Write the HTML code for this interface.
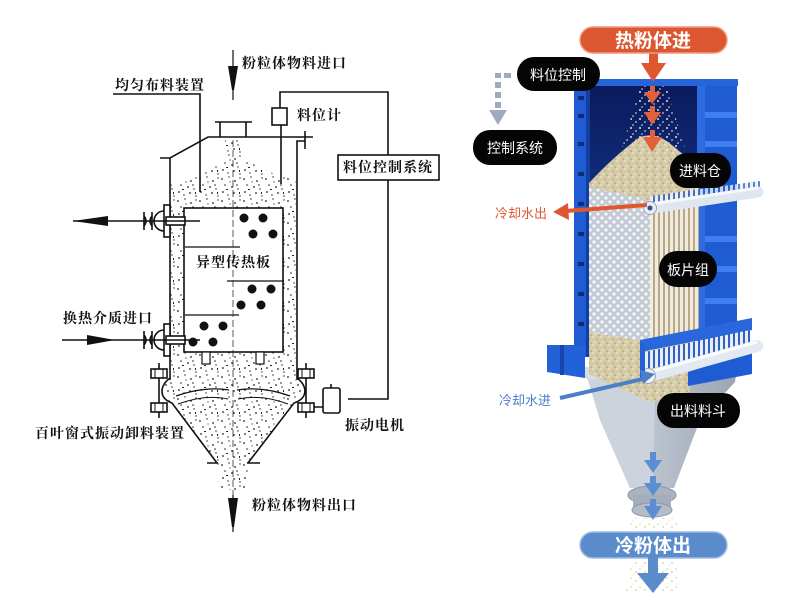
<!DOCTYPE html>
<html><head><meta charset="utf-8"><style>
html,body{margin:0;padding:0;background:#fff;}
svg{display:block;}
.lt{font-family:"Liberation Serif","Noto Serif CJK SC",serif;font-weight:bold;font-size:14px;letter-spacing:1px;fill:#111;}
.rt{font-family:"Liberation Sans","Noto Sans CJK SC",sans-serif;font-size:14px;fill:#fff;text-anchor:middle;}
</style></head><body>
<svg width="800" height="600" viewBox="0 0 800 600" xmlns="http://www.w3.org/2000/svg">
<defs>
<pattern id="speck" width="22" height="22" patternUnits="userSpaceOnUse">
<g fill="#222">
<circle cx="2" cy="3" r="0.9"/><circle cx="9" cy="1" r="0.7"/><circle cx="15" cy="5" r="0.9"/><circle cx="20" cy="2" r="0.7"/>
<circle cx="5" cy="9" r="0.8"/><circle cx="12" cy="11" r="0.9"/><circle cx="18" cy="13" r="0.7"/><circle cx="3" cy="16" r="0.9"/>
<circle cx="8" cy="19" r="0.7"/><circle cx="14" cy="17" r="0.9"/><circle cx="20" cy="20" r="0.7"/><circle cx="10" cy="6" r="0.6"/>
<circle cx="17" cy="9" r="0.8"/><rect x="6" y="13" width="2" height="1"/><rect x="19" y="16" width="1" height="2"/>
</g></pattern>
<pattern id="powder" width="8" height="8" patternUnits="userSpaceOnUse">
<rect width="8" height="8" fill="#d5cba9"/>
<circle cx="1" cy="1" r="0.9" fill="#efe8cf"/><circle cx="5" cy="3" r="0.9" fill="#b4a67f"/>
<circle cx="3" cy="6" r="0.9" fill="#f2ecd6"/><circle cx="7" cy="7" r="0.8" fill="#a8996f"/>
</pattern>
<pattern id="perf" width="8" height="8" patternUnits="userSpaceOnUse">
<rect width="8" height="8" fill="#c3cad4"/>
<circle cx="2" cy="2" r="1.6" fill="#f5f7fa"/><circle cx="6" cy="6" r="1.6" fill="#f5f7fa"/>
</pattern>
<pattern id="stripe" width="5" height="10" patternUnits="userSpaceOnUse">
<rect width="5" height="10" fill="#f0ebde"/><rect x="3" width="2" height="10" fill="#b6aa88"/>
</pattern>
<pattern id="comb" width="5" height="10" patternUnits="userSpaceOnUse">
<rect width="5" height="10" fill="#e9eef6"/><rect x="3" width="2" height="10" fill="#2f62c4"/>
</pattern>
<pattern id="fall" width="9" height="9" patternUnits="userSpaceOnUse">
<circle cx="1" cy="2" r="1" fill="#e9e1c3"/><circle cx="6" cy="5" r="0.9" fill="#d4c89f"/><circle cx="3" cy="8" r="0.8" fill="#f3edd8"/>
</pattern>
<linearGradient id="hop" x1="0" y1="0" x2="1" y2="0">
<stop offset="0" stop-color="#c9d0da"/><stop offset="0.5" stop-color="#b9c1cd"/><stop offset="1" stop-color="#9aa4b2"/>
</linearGradient>
<linearGradient id="inter" x1="0" y1="0" x2="0" y2="1">
<stop offset="0" stop-color="#0a1a5e"/><stop offset="1" stop-color="#12307f"/>
</linearGradient>
</defs>
<rect width="800" height="600" fill="#fff"/>

<!-- ============ LEFT DIAGRAM ============ -->
<path d="M170 185 L190 178 L210 168 L224 158 L225 140 L242 140 L243 158 L260 168 L280 176 L296 180 L296 380 C306 387 308 398 294 403 L248 463 L247 490 L219 490 L217 463 L172 403 C158 398 160 387 170 380 Z" fill="url(#speck)"/>
<g stroke="#111" fill="none" stroke-width="1.6">
<!-- vessel top -->
<path d="M160 158 H170 L208 137 H313"/>
<path d="M297 380 V141 H305"/>
<path d="M305 131 V149"/>
<path d="M170 158 V380"/>
<path d="M215 122 H252 M220 122 V137 M246 122 V137"/>
<!-- level meter -->
<rect x="272" y="108" width="15" height="17" fill="#fff"/>
<path d="M280 108 V92 H388 V399 H348"/>
<path d="M281 125 V184"/>
<rect x="338" y="155" width="101" height="25" fill="#fff"/>
<path d="M113 94 H200 V192"/>
<!-- plate box -->
<rect x="184" y="208" width="99" height="144" fill="#fff"/>
<path d="M185 247 H240 M227 281 H283 M185 315 H239" stroke-width="1.3"/>
<!-- small feet -->
<rect x="202" y="352" width="8" height="12" fill="#fff" stroke-width="1.2"/>
<rect x="256" y="352" width="8" height="12" fill="#fff" stroke-width="1.2"/>
<!-- bulge & cone -->
<path d="M170 378 C160 385 158 398 172 403 L217 463"/>
<path d="M297 378 C307 385 309 398 294 403 L248 463"/>
<path d="M207 463 H218 M247 463 H260"/>
<path d="M176 396 Q205 386 229 390 M237 390 Q262 386 290 396" stroke-width="1.2"/>
<path d="M178 404 Q205 394 228 399 M238 399 Q262 394 288 404" stroke-width="1"/>
<!-- clamps -->
<path d="M159 363 V418 M306 363 V418"/>
<rect x="151" y="369" width="16" height="9" fill="#fff"/>
<rect x="151" y="403" width="16" height="9" fill="#fff"/>
<rect x="298" y="369" width="16" height="9" fill="#fff"/>
<rect x="298" y="403" width="16" height="9" fill="#fff"/>
<path d="M155 369 V378 M163 369 V378 M155 403 V412 M163 403 V412 M302 369 V378 M310 369 V378 M302 403 V412 M310 403 V412" stroke-width="1"/>
<!-- motor -->
<rect x="323" y="388" width="17" height="25" rx="2" fill="#fff"/>
<path d="M314 407 H323 M331 384 V388"/>
<!-- nozzles -->
<g id="noz1">
<rect x="164" y="205" width="6" height="32" fill="#fff"/>
<path d="M164 211 A10 10 0 0 0 164 231"/>
<path d="M144 212 V230 M152 212 V230 M144 216 Q148 221 144 226 M152 216 Q148 221 152 226"/>
<rect x="166" y="217" width="19" height="8" fill="#fff"/>
<path d="M73 221 H200"/>
</g>
<rect x="164" y="324" width="6" height="32" fill="#fff"/>
<path d="M164 330 A10 10 0 0 0 164 350"/>
<path d="M144 331 V349 M152 331 V349 M144 335 Q148 340 144 345 M152 335 Q148 340 152 345"/>
<rect x="166" y="336" width="19" height="8" fill="#fff"/>
<path d="M62 340 H200"/>
<!-- arrows -->
<path d="M233 50 V100 M233 495 V532" stroke-width="1.2"/>
</g>
<path d="M233 140 V495" stroke="#333" stroke-width="0.8" stroke-dasharray="7 3" fill="none"/>
<g fill="#111">
<polygon points="228,66 238,66 234,90 232,90"/>
<polygon points="228,498 238,498 234,527 232,527"/>
<polygon points="73,221 108,216 108,226"/>
<polygon points="115,340 87,335 87,345"/>
<circle cx="244" cy="218" r="4.5"/><circle cx="263" cy="218" r="4.5"/><circle cx="253" cy="234" r="4.5"/><circle cx="273" cy="234" r="4.5"/>
<circle cx="252" cy="289" r="4.5"/><circle cx="271" cy="289" r="4.5"/><circle cx="241" cy="305" r="4.5"/><circle cx="261" cy="305" r="4.5"/>
<circle cx="204" cy="326" r="4.5"/><circle cx="223" cy="326" r="4.5"/><circle cx="193" cy="342" r="4.5"/><circle cx="213" cy="342" r="4.5"/>
</g>
<text class="lt" x="242" y="68">粉粒体物料进口</text>
<text class="lt" x="115" y="90">均匀布料装置</text>
<text class="lt" x="297" y="120">料位计</text>
<text class="lt" x="343" y="172">料位控制系统</text>
<text class="lt" x="196" y="267">异型传热板</text>
<text class="lt" x="63" y="323">换热介质进口</text>
<text class="lt" x="345" y="430">振动电机</text>
<text class="lt" x="35" y="438">百叶窗式振动卸料装置</text>
<text class="lt" x="252" y="510">粉粒体物料出口</text>

<!-- ============ RIGHT DIAGRAM ============ -->
<!-- hopper -->
<polygon points="577,370 740,352 735,382 700,420 674,488 630,488 600,420 588,380" fill="url(#hop)"/>
<polygon points="577,370 655,398 653,488 630,488 600,420 588,380" fill="#cdd3dc"/>
<polygon points="577,368 740,350 742,358 590,380" fill="#d8dde5"/>
<ellipse cx="652" cy="495" rx="24" ry="9" fill="#aab3c0" stroke="#8d97a6"/>
<rect x="633" y="495" width="38" height="14" fill="#a3adbb"/>
<ellipse cx="652" cy="510" rx="20" ry="7" fill="#b4bcc8" stroke="#8d97a6"/>
<!-- interior -->
<rect x="589" y="85" width="110" height="120" fill="url(#inter)"/>
<!-- right panel -->
<polygon points="697,81 737,80 737,345 697,345" fill="#1f5bd3"/>
<rect x="697" y="81" width="8" height="264" fill="#2f6be0"/>
<g fill="#3f7ef0">
<rect x="705" y="112" width="32" height="6"/><rect x="705" y="141" width="32" height="6"/>
<rect x="705" y="236" width="32" height="6"/><rect x="705" y="266" width="32" height="6"/><rect x="705" y="298" width="32" height="6"/>
</g>
<!-- top band -->
<rect x="575" y="79" width="163" height="7" fill="#2564da"/>
<!-- left column -->
<rect x="574" y="82" width="16" height="275" fill="#1f5cd4"/>
<rect x="586" y="82" width="4" height="275" fill="#143f9e"/>
<g fill="#0e2c78">
<rect x="578" y="96" width="6" height="4"/><rect x="578" y="114" width="6" height="4"/><rect x="578" y="142" width="6" height="4"/>
<rect x="578" y="172" width="6" height="4"/><rect x="578" y="202" width="6" height="4"/><rect x="578" y="232" width="6" height="4"/>
<rect x="578" y="262" width="6" height="4"/><rect x="578" y="292" width="6" height="4"/><rect x="578" y="322" width="6" height="4"/>
</g>
<!-- falling stream -->
<polygon points="640,86 666,86 685,148 622,148" fill="url(#fall)"/>
<!-- pile -->
<path d="M589 183 Q615 155 640 137 Q655 132 668 142 Q685 155 699 170 L699 200 L650 200 L589 188 Z" fill="url(#powder)"/>
<!-- plates -->
<polygon points="589,187 650,200 650,342 589,332" fill="url(#perf)"/>
<polygon points="650,200 699,187 699,332 650,342" fill="url(#stripe)"/>
<!-- powder below plates -->
<polygon points="589,332 650,342 690,334 690,392 650,402 589,374" fill="url(#powder)"/>
<!-- top manifold -->
<polygon points="650,196 760,181 760,189 650,204" fill="url(#comb)" opacity="0.8"/>
<line x1="652" y1="208" x2="758" y2="192" stroke="#dfe6ef" stroke-width="11" stroke-linecap="round"/>
<line x1="652" y1="204" x2="758" y2="188" stroke="#f6f8fb" stroke-width="3"/>
<circle cx="650" cy="208" r="6.5" fill="#e8edf4" stroke="#9aa7b8"/>
<circle cx="650" cy="208" r="2.5" fill="#2a4f9a"/>
<!-- bottom beams -->
<polygon points="547,345 585,345 585,378 547,372" fill="#2361d8"/>
<rect x="560" y="345" width="4" height="30" fill="#1745a8"/>
<polygon points="640,340 752,318 752,330 640,352" fill="#2a66dc"/>
<polygon points="645,352 750,330 750,346 645,370" fill="url(#comb)"/>
<polygon points="688,372 752,352 752,374 688,386" fill="#1f5bd3"/>
<line x1="650" y1="376" x2="757" y2="346" stroke="#e3e9f1" stroke-width="12" stroke-linecap="round"/>
<line x1="650" y1="372" x2="757" y2="342" stroke="#fbfcfd" stroke-width="3"/>
<circle cx="648" cy="376" r="7.5" fill="#eef2f7" stroke="#9aa7b8"/>
<circle cx="648" cy="376" r="3" fill="#2a4f9a"/>
<rect x="640" y="343" width="5" height="35" fill="#2361d8"/>

<!-- orange arrows -->
<rect x="649" y="52" width="9" height="12" fill="#e0562f"/>
<polygon points="641,63 666,63 653,82" fill="#e0562f"/>
<g fill="#e2613a">
<rect x="650" y="86" width="5" height="7"/><polygon points="644,92 661,92 652,104"/>
<rect x="650" y="106" width="5" height="7"/><polygon points="644,112 661,112 652,125"/>
<rect x="650" y="130" width="5" height="8"/><polygon points="643,137 662,137 652,152"/>
</g>
<!-- blue arrows in hopper -->
<g fill="#5b8ed1">
<rect x="650" y="452" width="6" height="8"/><polygon points="644,460 662,460 653,473"/>
<rect x="650" y="476" width="6" height="7"/><polygon points="644,483 662,483 653,496"/>
<rect x="650" y="499" width="6" height="7"/><polygon points="644,506 662,506 653,520"/>
</g>
<polygon points="632,518 676,518 680,530 626,530" fill="url(#fall)"/>
<polygon points="630,562 676,562 680,592 626,592" fill="url(#fall)"/>

<!-- pills -->
<rect x="580" y="27" width="147" height="26" rx="13" fill="#dc5631" stroke="#f09a7e" stroke-width="1.5"/>
<text class="rt" x="653" y="47" style="font-size:19px;font-weight:bold">热粉体进</text>
<rect x="580" y="532" width="147" height="26" rx="13" fill="#5a8bcb" stroke="#9dbde6" stroke-width="1.5"/>
<text class="rt" x="653" y="552" style="font-size:19px;font-weight:bold">冷粉体出</text>
<rect x="648" y="557" width="10" height="17" fill="#5a8bcb"/>
<polygon points="637,573 669,573 653,593" fill="#5a8bcb"/>

<rect x="517" y="57" width="83" height="34" rx="17" fill="#050505"/>
<text class="rt" x="558" y="80">料位控制</text>
<rect x="473" y="130" width="84" height="35" rx="17" fill="#050505"/>
<text class="rt" x="515" y="153">控制系统</text>
<rect x="670" y="153" width="61" height="35" rx="17" fill="#050505"/>
<text class="rt" x="700" y="176">进料仓</text>
<rect x="659" y="251" width="58" height="36" rx="18" fill="#050505"/>
<text class="rt" x="688" y="275">板片组</text>
<rect x="657" y="393" width="83" height="35" rx="17" fill="#050505"/>
<text class="rt" x="698" y="416">出料料斗</text>

<!-- dashed gray arrow -->
<g fill="#9eabbf">
<rect x="504" y="73" width="7" height="5"/><rect x="495" y="73" width="6" height="5"/>
<rect x="495" y="82" width="6" height="6"/><rect x="495" y="92" width="6" height="6"/><rect x="495" y="102" width="6" height="6"/>
<polygon points="489,110 507,110 498,125"/>
</g>

<!-- cooling water arrows -->
<line x1="647" y1="205" x2="566" y2="211" stroke="#e0562f" stroke-width="4"/>
<polygon points="553,212 568,203 569,220" fill="#e0562f"/>
<text x="495" y="218" style="font-family:'Liberation Sans','Noto Sans CJK SC',sans-serif;font-size:13px;fill:#e0562f">冷却水出</text>
<line x1="560" y1="398" x2="643" y2="379" stroke="#4b80c6" stroke-width="4"/>
<polygon points="655,374 643,384 640,370" fill="#4b80c6"/>
<text x="499" y="405" style="font-family:'Liberation Sans','Noto Sans CJK SC',sans-serif;font-size:13px;fill:#4b80c6">冷却水进</text>
</svg>
</body></html>
